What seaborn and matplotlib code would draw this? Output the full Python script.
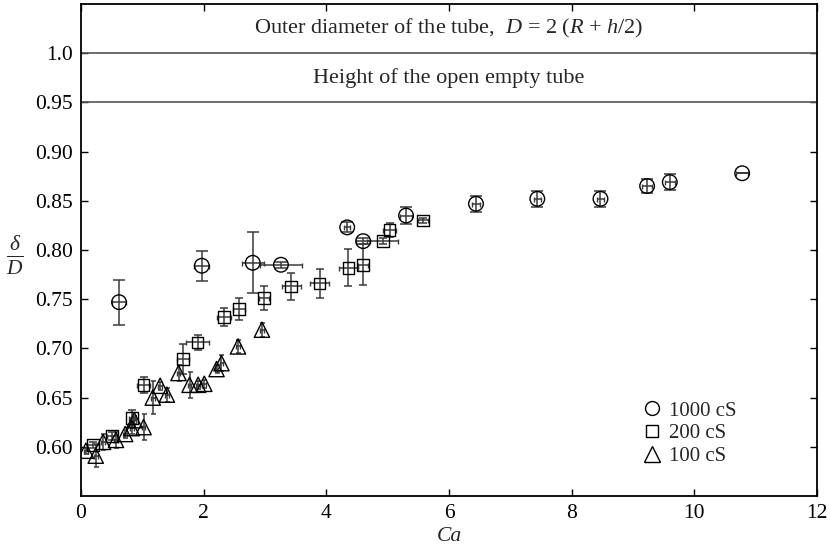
import numpy as np
import pandas as pd
import matplotlib
matplotlib.use("Agg")
import matplotlib.pyplot as plt
from matplotlib.lines import Line2D
import seaborn as sns

# ---------------- data ----------------
ca_1000 = [0.62, 1.97, 2.80, 3.26, 4.34, 4.60, 5.30, 6.44, 7.44, 8.47, 9.23, 9.60, 10.78]
d_1000 = [0.747, 0.784, 0.787, 0.785, 0.823, 0.809, 0.835, 0.847, 0.852, 0.852, 0.865, 0.869, 0.878]
ye_1000 = [0.023, 0.015, 0.031, 0.003, 0.005, 0.003, 0.009, 0.008, 0.008, 0.008, 0.0075, 0.008, 0.0]
xe_1000 = [0.12, 0.12, 0.18, 0.34, 0.05, 0.11, 0.10, 0.06, 0.06, 0.06, 0.08, 0.08, 0.10]

ca_200 = [0.19, 0.50, 0.83, 1.02, 1.66, 1.90, 2.33, 2.58, 2.98, 3.43, 3.89, 4.36, 4.60, 4.92, 5.03, 5.58]
d_200 = [0.602, 0.611, 0.629, 0.663, 0.689, 0.706, 0.732, 0.740, 0.751, 0.763, 0.766, 0.782, 0.785, 0.809, 0.820, 0.830]
ye_200 = [0.003, 0.004, 0.008, 0.008, 0.0155, 0.008, 0.009, 0.0115, 0.012, 0.014, 0.015, 0.019, 0.021, 0.003, 0.007, 0.003]
xe_200 = [0.10, 0.08, 0.05, 0.10, 0.10, 0.19, 0.12, 0.10, 0.08, 0.15, 0.15, 0.15, 0.08, 0.25, 0.10, 0.08]

ca_100 = [0.08, 0.24, 0.36, 0.57, 0.72, 0.83, 0.87, 1.02, 1.17, 1.29, 1.40, 1.59, 1.77, 1.91, 2.01, 2.21, 2.29, 2.56, 2.95]
d_100 = [0.596, 0.591, 0.605, 0.607, 0.613, 0.619, 0.627, 0.620, 0.650, 0.662, 0.653, 0.675, 0.663, 0.663, 0.664, 0.679, 0.685, 0.702, 0.719]
ye_100 = [0.003, 0.012, 0.008, 0.008, 0.004, 0.006, 0.004, 0.013, 0.017, 0.004, 0.007, 0.008, 0.013, 0.004, 0.004, 0.004, 0.008, 0.007, 0.007]
xe_100 = [0.03] * len(ca_100)

labels = ["1000 cS", "200 cS", "100 cS"]
y_ticks = [0.60, 0.65, 0.70, 0.75, 0.80, 0.85, 0.90, 0.95, 1.0]
y_ticklabels = ["0.60", "0.65", "0.70", "0.75", "0.80", "0.85", "0.90", "0.95", "1.0"]
x_ticks = [0, 2, 4, 6, 8, 10, 12]

outer_text = "Outer diameter of the tube,  $D$ = 2 ($R$ + $h$/2)"
inner_text = "Height of the open empty tube"

# ---------------- style ----------------
sns.set_theme(style="ticks")
plt.rcParams["font.family"] = ["Liberation Serif", "DejaVu Serif"]
plt.rcParams["mathtext.fontset"] = "custom"
plt.rcParams["mathtext.rm"] = "Liberation Serif"
plt.rcParams["mathtext.it"] = "Liberation Serif:italic"
plt.rcParams["mathtext.bf"] = "Liberation Serif:bold"

fig = plt.figure(figsize=(8.3, 5.53), dpi=100)
ax = fig.add_axes([81 / 830, 1 - 496 / 553, (817 - 81) / 830, (496 - 4) / 553])

series = [
    (ca_1000, d_1000, xe_1000, ye_1000, "o", 10.5, 4.5),
    (ca_200, d_200, xe_200, ye_200, "s", 8.5, 3.0),
    (ca_100, d_100, xe_100, ye_100, "^", 11.0, 1.8),
]

ecol = "#3a3a3a"
for (cx, cy, xe, ye, mk, ms, cap), lab in zip(series, labels):
    df = pd.DataFrame({"Ca": cx, "delta": cy})
    sns.scatterplot(data=df, x="Ca", y="delta", marker=mk, s=ms ** 2,
                    facecolors="none", edgecolor="black", linewidth=1.0,
                    ax=ax, zorder=3)
    ax.errorbar(cx, cy, yerr=ye, fmt="none", ecolor=ecol, elinewidth=1.1,
                capsize=cap, capthick=1.1, zorder=2)
    ax.errorbar(cx, cy, xerr=xe, fmt="none", ecolor=ecol, elinewidth=1.1,
                capsize=1.8, capthick=1.0, zorder=2)

# reference lines
ax.axhline(1.0, color="#555555", lw=1.2, zorder=1)
ax.axhline(0.95, color="#555555", lw=1.2, zorder=1)
ax.text(6.0, 1.025, outer_text, ha="center", va="center", fontsize=16)
ax.text(6.0, 0.975, inner_text, ha="center", va="center", fontsize=16)

ax.set_xlim(0, 12)
ax.set_ylim(0.55, 1.05)
ax.set_xticks(x_ticks)
ax.set_xticklabels([str(t) for t in x_ticks])
ax.set_yticks(y_ticks)
ax.set_yticklabels(y_ticklabels)
ax.tick_params(direction="in", length=5, width=1.0, top=True, right=True,
               labelsize=15.5, colors="black", pad=6)
for sp in ax.spines.values():
    sp.set_visible(True)
    sp.set_linewidth(1.3)
    sp.set_color("black")

ax.set_xlabel("Ca", fontsize=15.5, style="italic", va="center")
ax.xaxis.set_label_coords(0.5, -0.083)
ax.set_ylabel(r"$\frac{\delta}{D}$", fontsize=22, rotation=0, va="center", ha="center")
ax.yaxis.set_label_coords(-0.090, 0.49)

handles = [
    Line2D([], [], ls="none", marker="o", ms=10, mfc="none", mec="black", mew=1.0),
    Line2D([], [], ls="none", marker="s", ms=9, mfc="none", mec="black", mew=1.0),
    Line2D([], [], ls="none", marker="^", ms=11, mfc="none", mec="black", mew=1.0),
]
ax.legend(handles, labels, loc="upper left", bbox_to_anchor=(0.762, 0.193),
          frameon=False, fontsize=15, handlelength=1.0, handletextpad=0.3,
          labelspacing=0.15, borderaxespad=0, borderpad=0)

fig.savefig("out.png", dpi=100)
